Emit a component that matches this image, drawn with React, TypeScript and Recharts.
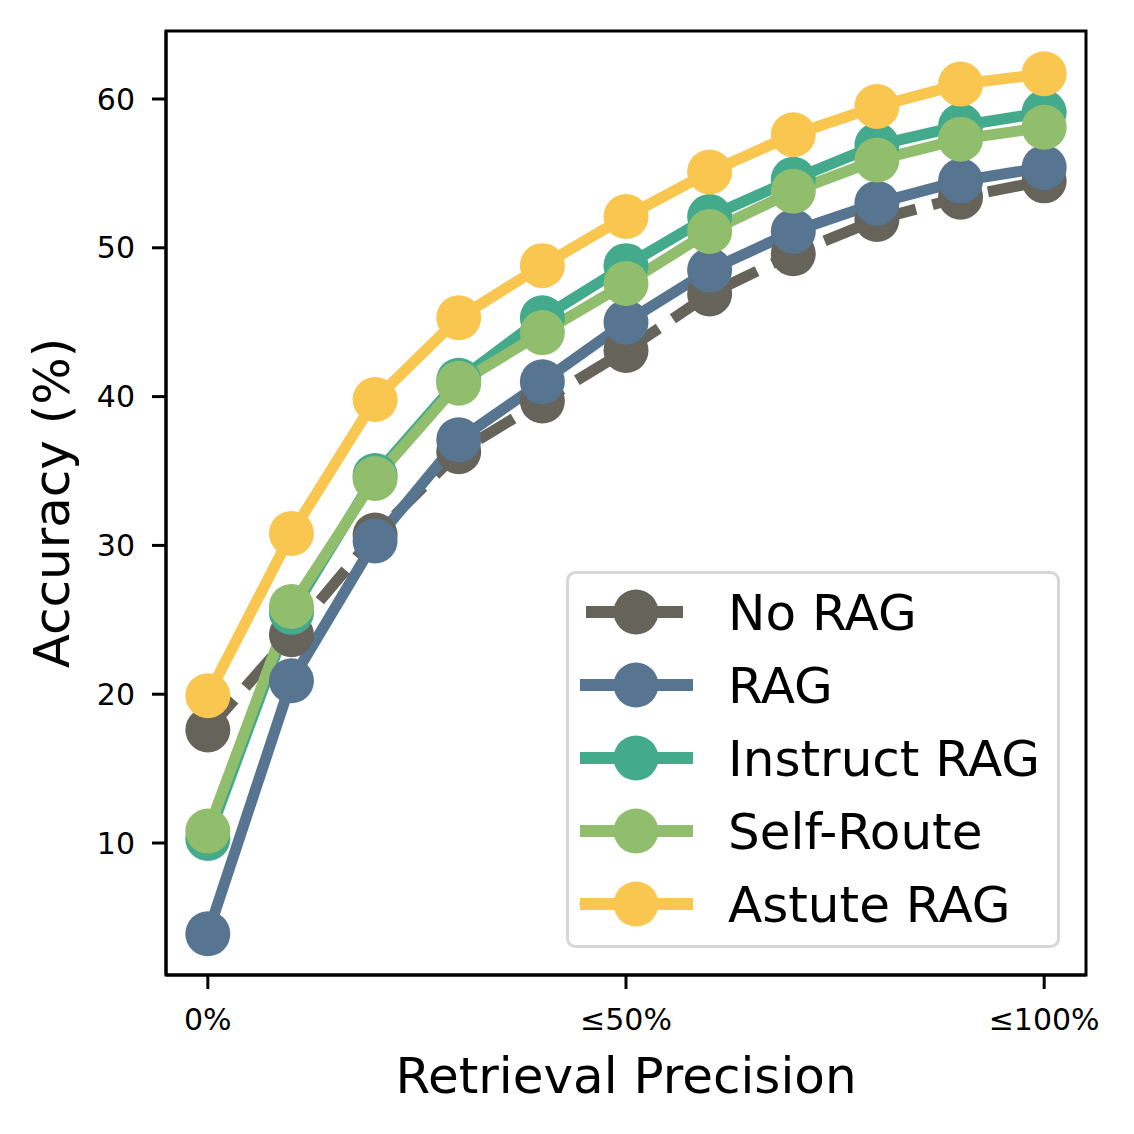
import React from 'react';
import { LineChart, Line, XAxis, YAxis, Label, ReferenceArea } from 'recharts';

const steps = [0, 1, 2, 3, 4, 5, 6, 7, 8, 9, 10];
const noRag = [17.6, 24.0, 30.7, 36.3, 39.7, 43.1, 46.9, 49.6, 51.9, 53.4, 54.5];
const rag = [3.9, 20.9, 30.3, 37.1, 41.0, 45.0, 48.5, 51.1, 53.0, 54.5, 55.4];
const instructRag = [10.3, 25.5, 34.7, 41.1, 45.3, 48.8, 52.1, 54.6, 56.9, 58.2, 59.1];
const selfRoute = [10.8, 25.9, 34.5, 40.9, 44.3, 47.6, 51.1, 53.8, 55.9, 57.3, 58.1];
const astuteRag = [19.9, 30.8, 39.8, 45.3, 48.8, 52.1, 55.1, 57.6, 59.5, 61.0, 61.7];

const xTicks = [0, 5, 10];
const xTickLabels = ['0%', '≤50%', '≤100%'];
const yTicks = [10, 20, 30, 40, 50, 60];
const xDomain = [-0.5, 10.5];
const yDomain = [1.13, 64.57];

const seriesNames = ['No RAG', 'RAG', 'Instruct RAG', 'Self-Route', 'Astute RAG'];
const seriesValues = [noRag, rag, instructRag, selfRoute, astuteRag];
const seriesColors = ['#66635a', '#577590', '#43aa8b', '#90be6d', '#f9c74f'];
const seriesDash = ['40 17', undefined, undefined, undefined, undefined];

const data = steps.map((s, i) => {
  const row: Record<string, number> = { step: s };
  seriesNames.forEach((n, k) => {
    row[n] = seriesValues[k][i];
  });
  return row;
});

const FONT = 'DejaVu Sans';
const LW = 11;
const R = 22.5;
const BIG = 50;

const LegendBox = () => (
  <svg width={496} height={380} style={{ display: 'block' }}>
    <rect x={1.5} y={1.5} width={491} height={374} rx={8} ry={8} fill="rgba(255,255,255,0.8)" stroke="#d6d6d6" strokeWidth={3} />
    {seriesNames.map((name, i) => {
      const cy = 41 + i * 73;
      const dash = seriesDash[i];
      return (
        <g key={name}>
          <line x1={dash ? 20 : 14} x2={dash ? 121 : 127} y1={cy} y2={cy} stroke={seriesColors[i]} strokeWidth={12} strokeDasharray={dash ? '40 17' : undefined} />
          <circle cx={70} cy={cy} r={R} fill={seriesColors[i]} />
          <text x={162} y={cy + 18} fontSize={BIG} fontFamily={FONT} fill="#000">
            {name}
          </text>
        </g>
      );
    })}
  </svg>
);

export default function App() {
  return (
    <div style={{ position: 'absolute', left: 0, top: 0, width: 1134, height: 1134, background: '#fff' }}>
      <LineChart width={1134} height={1134} data={data} margin={{ top: 31, right: 48, left: 0, bottom: 0 }}>
        <XAxis
          dataKey="step"
          type="number"
          domain={xDomain}
          ticks={xTicks}
          tickFormatter={(v: number) => xTickLabels[xTicks.indexOf(v)]}
          height={159}
          tickSize={14}
          tickMargin={20}
          axisLine={{ stroke: '#000', strokeWidth: 3 }}
          tickLine={{ stroke: '#000', strokeWidth: 3 }}
          tick={{ fill: '#000', fontSize: 30, fontFamily: FONT }}
          allowDataOverflow
        >
          <Label
            content={() => (
              <text x={626} y={1093} textAnchor="middle" fontSize={BIG} fontFamily={FONT} fill="#000">
                Retrieval Precision
              </text>
            )}
          />
        </XAxis>
        <YAxis
          type="number"
          domain={yDomain}
          ticks={yTicks}
          width={166}
          tickSize={14}
          tickMargin={17}
          axisLine={{ stroke: '#000', strokeWidth: 3 }}
          tickLine={{ stroke: '#000', strokeWidth: 3 }}
          tick={{ fill: '#000', fontSize: 30, fontFamily: FONT }}
          allowDataOverflow
        >
          <Label
            content={() => (
              <text x={69} y={503} transform="rotate(-90 69 503)" textAnchor="middle" fontSize={BIG} fontFamily={FONT} fill="#000">
                Accuracy (%)
              </text>
            )}
          />
        </YAxis>
        <ReferenceArea x1={xDomain[0]} x2={xDomain[1]} y1={yDomain[0]} y2={yDomain[1]} fill="none" fillOpacity={0} stroke="#000" strokeWidth={3} ifOverflow="visible" />
        {seriesNames.map((n, k) => (
          <Line
            key={n}
            dataKey={n}
            name={n}
            stroke={seriesColors[k]}
            strokeWidth={LW}
            strokeDasharray={seriesDash[k]}
            strokeLinejoin="round"
            dot={{ r: R, fill: seriesColors[k], stroke: 'none', strokeWidth: 0, strokeDasharray: '' }}
            activeDot={false}
            isAnimationActive={false}
            type="linear"
          />
        ))}
      </LineChart>
      <div style={{ position: 'absolute', left: 566, top: 571, width: 496, height: 380 }}>
        <LegendBox />
      </div>
    </div>
  );
}
